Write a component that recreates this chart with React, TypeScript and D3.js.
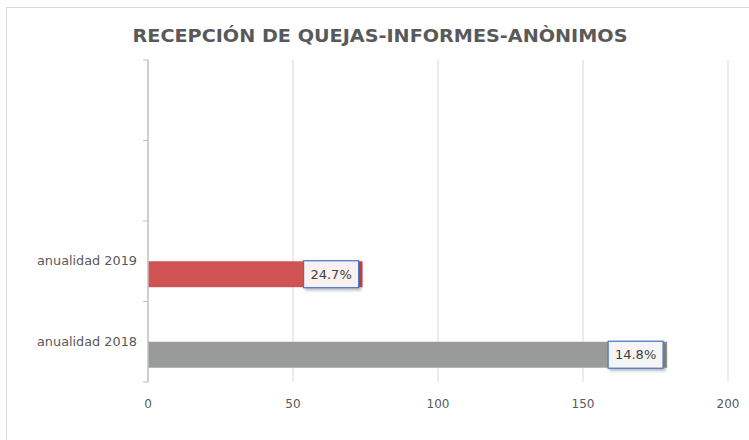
import React from "react";
import * as d3 from "d3";

const categories = ["anualidad 2018", "anualidad 2019", "", ""];
const seriesNames = ["vacía", "quejas"];
const values = [179, 74];
const labels = ["14.8%", "24.7%"];
const barColors = ["#999B9B", "#D05353"];
const xTicks = [0, 50, 100, 150, 200];
const title = "RECEPCIÓN DE QUEJAS-INFORMES-ANÒNIMOS";

export default function App() {
  const W = 749, H = 440;
  const left = 148, right = 728, top = 60, bottom = 382;
  const x = d3.scaleLinear().domain([0, 200]).range([left, right]);
  const y = d3.scaleBand<number>().domain(d3.range(categories.length)).range([bottom, top]).paddingInner(0).paddingOuter(0);
  const inner = d3.scaleBand<string>().domain(seriesNames).range([0, y.bandwidth()]).paddingInner(0).paddingOuter(0.55);
  const font = "'DejaVu Sans', Verdana, sans-serif";
  const boundaries = d3.range(categories.length + 1).map(i => bottom - i * y.step());
  return (
    <svg width={W} height={H} style={{ position: "absolute", left: 0, top: 0 }}>
      <defs>
        <filter id="sh" x="-20%" y="-20%" width="150%" height="160%">
          <feDropShadow dx="2" dy="2" stdDeviation="1.5" floodColor="#000" floodOpacity="0.3" />
        </filter>
      </defs>
      <rect x={0} y={0} width={W} height={H} fill="#fff" />
      <rect x={6.5} y={7.5} width={W + 10} height={H + 10} fill="#fff" stroke="#D9D9D9" strokeWidth={1} />
      <text x={380} y={42} textAnchor="middle" fontFamily={font} fontWeight="bold" fontSize={18} fill="#595959" textLength={495} lengthAdjust="spacingAndGlyphs">{title}</text>
      {xTicks.filter(t => t > 0).map(t => (
        <line key={t} x1={x(t)} x2={x(t)} y1={top} y2={bottom} stroke="#D9D9D9" strokeWidth={1} />
      ))}
      {values.map((v, i) => {
        const yb = (y(i) as number) + (inner(seriesNames[1]) as number);
        const bh = inner.bandwidth();
        const bx = x(v);
        const bw = 55, lh = 27;
        return (
          <g key={i}>
            <rect x={x(0)} y={yb} width={bx - x(0)} height={bh} fill={barColors[i]} />
            <g filter="url(#sh)">
              <rect x={bx - 4 - bw} y={yb + bh / 2 - lh / 2} width={bw} height={lh} fill="#FFFFFF" fillOpacity={0.9} stroke="#4472C4" strokeWidth={1.2} />
            </g>
            <text x={bx - 4 - bw / 2} y={yb + bh / 2} dy="0.36em" textAnchor="middle" fontFamily={font} fontSize={13} fill="#404040">{labels[i]}</text>
          </g>
        );
      })}
      <line x1={left} x2={left} y1={top} y2={bottom} stroke="#BFBFBF" strokeWidth={1.5} />
      {boundaries.map((b, i) => (
        <line key={i} x1={left - 5} x2={left} y1={b} y2={b} stroke="#BFBFBF" strokeWidth={1} />
      ))}
      {categories.map((c, i) => (
        <text key={i} x={137} y={(y(i) as number) + y.bandwidth() / 2} dy="0.35em" textAnchor="end" fontFamily={font} fontSize={12} fill="#595959" textLength={c ? 100 : undefined} lengthAdjust="spacingAndGlyphs">{c}</text>
      ))}
      {xTicks.map(t => (
        <text key={t} x={x(t)} y={404} dy="0.35em" textAnchor="middle" fontFamily={font} fontSize={12} fill="#595959">{t}</text>
      ))}
    </svg>
  );
}
